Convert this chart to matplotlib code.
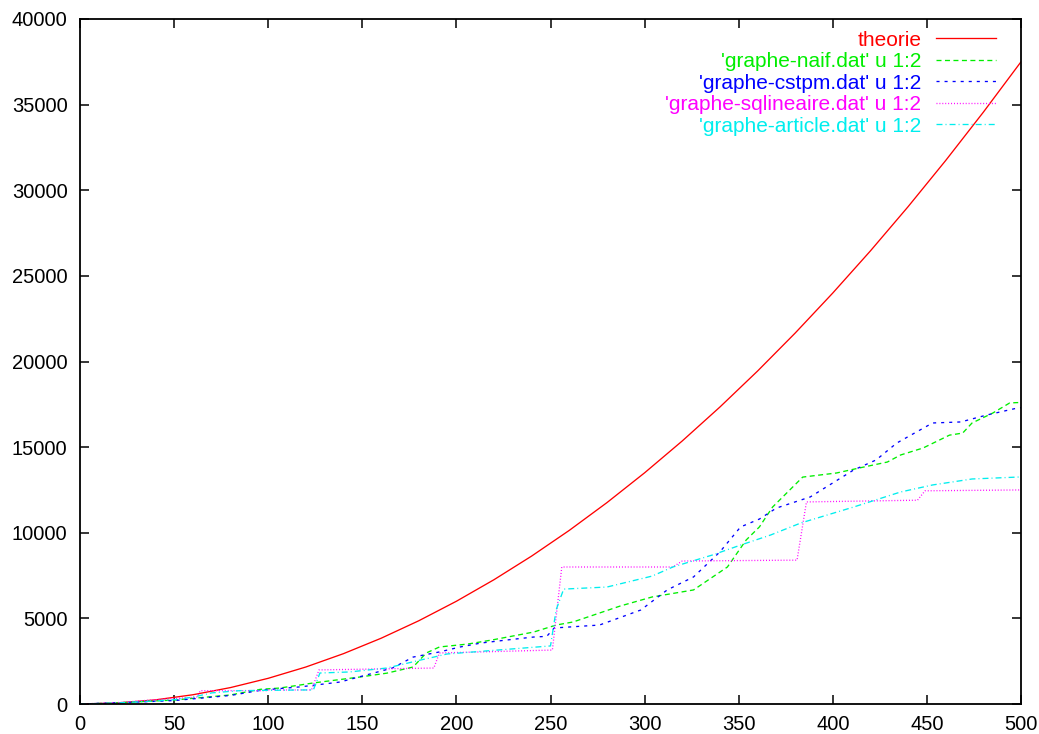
import numpy as np
import matplotlib.pyplot as plt

plt.rcParams['font.family'] = ['Liberation Sans', 'DejaVu Sans']
plt.rcParams['lines.scale_dashes'] = False

# theorie curve, read every 20 units
x_th = [0, 20, 40, 60, 80, 100, 120, 140, 160, 180, 200, 220, 240, 260, 280,
        300, 320, 340, 360, 380, 400, 420, 440, 460, 480, 500]
y_th = [0, 60, 240, 540, 960, 1500, 2160, 2940, 3840, 4860, 6000, 7260, 8640,
        10140, 11760, 13500, 15360, 17340, 19440, 21660, 24000, 26460, 29040,
        31740, 34560, 37500]

# 'graphe-naif.dat'
x_naif = [0, 18, 50, 80, 96, 106, 117, 124, 149, 163, 177, 184, 191, 206, 219,
          241, 253, 262, 287, 304, 326, 344, 354, 361, 368, 384, 402, 414, 429,
          436, 448, 462, 469, 474, 485, 494, 498, 500]
y_naif = [0, 60, 230, 530, 860, 930, 1110, 1230, 1580, 1800, 2160, 2980, 3330,
          3500, 3740, 4200, 4610, 4790, 5720, 6250, 6660, 8000, 9580, 10340,
          11500, 13250, 13490, 13780, 14130, 14540, 14950, 15700, 15820, 16410,
          16990, 17580, 17600, 17600]

# 'graphe-cstpm.dat'
x_cstpm = [0, 18, 50, 80, 96, 106, 117, 138, 152, 166, 177, 191, 202, 213, 227,
           241, 248, 252, 276, 298, 312, 326, 340, 351, 361, 370, 388, 411, 423,
           434, 453, 468, 482, 498, 500]
y_cstpm = [0, 60, 200, 500, 800, 900, 1000, 1280, 1690, 2100, 2740, 3040, 3330,
           3560, 3740, 3910, 3950, 4440, 4610, 5490, 6660, 7420, 8880, 10340,
           10800, 11440, 12090, 13660, 14250, 15240, 16410, 16470, 16880, 17280,
           17300]

# 'graphe-sqlineaire.dat'
x_sq = [0, 20, 40, 62, 64, 99, 100, 123, 127, 188, 191, 251, 256, 315, 320,
        381, 386, 445, 449, 500]
y_sq = [0, 80, 250, 400, 780, 780, 820, 820, 1990, 2100, 2980, 3150, 8000,
        8000, 8350, 8400, 11800, 11900, 12450, 12500]

# 'graphe-article.dat'
x_art = [0, 20, 50, 60, 70, 85, 117, 124, 127.5, 143, 163, 170, 181, 188, 195,
         250, 253, 257, 280, 304, 315, 336, 351, 367, 383, 411, 436, 453, 474,
         498, 500]
y_art = [0, 60, 250, 400, 650, 780, 820, 820, 1810, 1870, 2100, 2280, 2570,
         2740, 2920, 3390, 5500, 6710, 6830, 7470, 8000, 8700, 9280, 9870,
         10570, 11500, 12380, 12790, 13140, 13250, 13260]

fig = plt.figure(figsize=(10.39, 7.34), dpi=100)
ax = fig.add_axes([80/1039, 30/734, 941/1039, 685/734])

lw = 0.95
ax.plot(x_th, y_th, color='#ff0000', lw=lw, label='theorie')
ax.plot(x_naif, y_naif, color='#00ee00', lw=lw, dashes=(3.6, 2.5),
        label="'graphe-naif.dat' u 1:2")
ax.plot(x_cstpm, y_cstpm, color='#0000ff', lw=lw, dashes=(2.2, 3.6),
        label="'graphe-cstpm.dat' u 1:2")
ax.plot(x_sq, y_sq, color='#ff00ff', lw=lw, dashes=(0.7, 1.4),
        label="'graphe-sqlineaire.dat' u 1:2")
ax.plot(x_art, y_art, color='#00eeee', lw=lw, dashes=(4.3, 2.2, 0.7, 2.2),
        label="'graphe-article.dat' u 1:2")

ax.set_xlim(0, 500)
ax.set_ylim(0, 40000)
ax.set_xticks(np.arange(0, 501, 50))
ax.set_yticks(np.arange(0, 40001, 5000))
ax.tick_params(direction='in', length=6.5, width=1.1, top=True, right=True,
               labelsize=14.5, pad=8)
ax.tick_params(axis='y', pad=9)
for s in ax.spines.values():
    s.set_linewidth(1.3)

leg = ax.legend(loc='upper right', frameon=False, markerfirst=False,
                labelcolor='linecolor', fontsize=15, handlelength=2.9,
                handletextpad=0.7, labelspacing=0.12,
                bbox_to_anchor=(0.9825, 0.995), borderaxespad=0)

fig.savefig('out.png', dpi=100)
